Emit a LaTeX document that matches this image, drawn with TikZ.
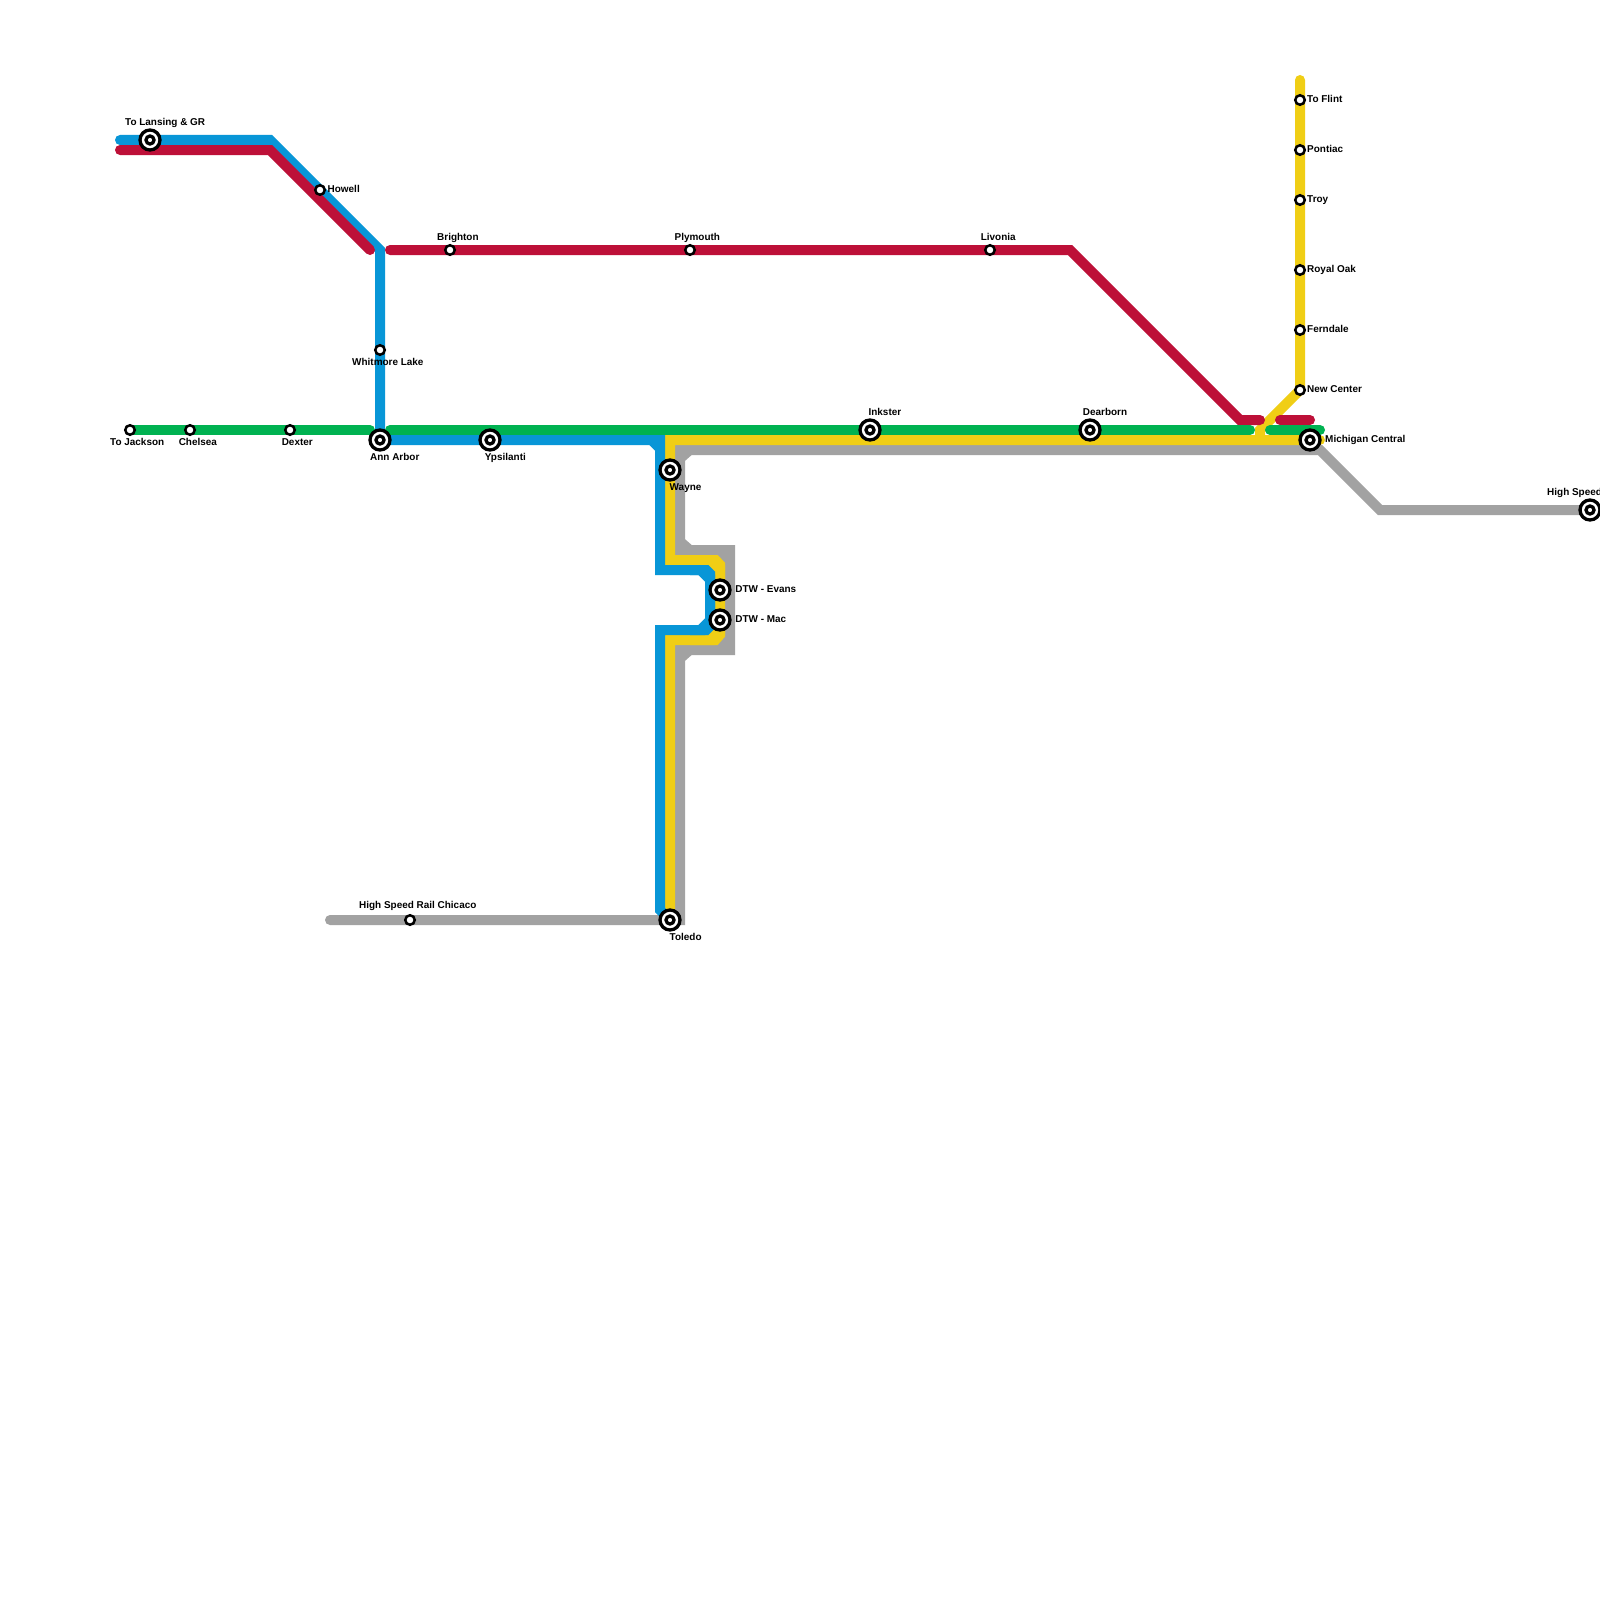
\documentclass[tikz,border=0pt]{standalone}
\usepackage{fontspec}
\setmainfont{Liberation Sans}
\pgfdeclarelayer{lines}
\pgfsetlayers{lines,main}
\definecolor{lblue}{HTML}{0896D7}
\definecolor{lred}{HTML}{BD1038}
\definecolor{lgreen}{HTML}{00B251}
\definecolor{lyellow}{HTML}{F0CE15}
\definecolor{lgray}{HTML}{A2A2A2}
\tikzset{
  metro/.style={line width=10pt,line cap=round,line join=miter,miter limit=4},
  hub/.style={circle,draw=black,fill=white,line width=3.3pt,inner sep=0pt,outer sep=0pt,minimum size=20pt,
    path picture={\draw[black,line width=3.3pt] (path picture bounding box.center) circle (4pt);}},
  halt/.style={circle,draw=black,fill=white,line width=2.5pt,inner sep=0pt,outer sep=0pt,minimum size=9.5pt},
  lbl/.style={anchor=west,inner sep=0pt,text height=9.4pt,text depth=2pt,font=\fontsize{9.95pt}{12pt}\selectfont\bfseries,text=black}
}
\begin{document}
\begin{tikzpicture}[x=1pt,y=-1pt]
\useasboundingbox (0,0) rectangle (1600,1600);
% stations
\node[hub] (lansing) at (150,140) {};
\node[halt] (howell) at (320,190) {};
\node[halt] (brighton) at (450,250) {};
\node[halt] (plymouth) at (690,250) {};
\node[halt] (livonia) at (990,250) {};
\node[halt] (whitmore) at (380,350) {};
\node[hub] (annarbor) at (380,440) {};
\node[hub] (ypsilanti) at (490,440) {};
\node[halt] (jackson) at (130,430) {};
\node[halt] (chelsea) at (190,430) {};
\node[halt] (dexter) at (290,430) {};
\node[hub] (inkster) at (870,430) {};
\node[hub] (dearborn) at (1090,430) {};
\node[hub] (wayne) at (670,470) {};
\node[hub] (evans) at (720,590) {};
\node[hub] (mac) at (720,620) {};
\node[hub] (toledo) at (670,920) {};
\node[halt] (hsrc) at (410,920) {};
\node[halt] (flint) at (1300,100) {};
\node[halt] (pontiac) at (1300,150) {};
\node[halt] (troy) at (1300,200) {};
\node[halt] (royaloak) at (1300,270) {};
\node[halt] (ferndale) at (1300,330) {};
\node[halt] (newcenter) at (1300,390) {};
\node[hub] (michigan) at (1310,440) {};
\node[hub] (hsr) at (1590,510) {};
% labels
\node[lbl] (tlansing) at (125,122) {To Lansing \& GR};
\node[lbl] (thowell) at (327.5,189) {Howell};
\node[lbl] (tbrighton) at (437,237) {Brighton};
\node[lbl] (tplymouth) at (674.5,237) {Plymouth};
\node[lbl] (tlivonia) at (980.6,237) {Livonia};
\node[lbl] (twhitmore) at (352,362) {Whitmore Lake};
\node[lbl] (tannarbor) at (370,457) {Ann Arbor};
\node[lbl] (typsilanti) at (484.7,457) {Ypsilanti};
\node[lbl] (tjackson) at (110,442) {To Jackson};
\node[lbl] (tchelsea) at (178.6,442) {Chelsea};
\node[lbl] (tdexter) at (281.6,442) {Dexter};
\node[lbl] (tinkster) at (868.4,412) {Inkster};
\node[lbl] (tdearborn) at (1082.7,412) {Dearborn};
\node[lbl] (twayne) at (669.5,486.7) {Wayne};
\node[lbl] (tevans) at (735.2,589) {DTW - Evans};
\node[lbl] (tmac) at (735.2,619) {DTW - Mac};
\node[lbl] (ttoledo) at (669.5,936.7) {Toledo};
\node[lbl] (thsrc) at (359,905) {High Speed Rail Chicaco};
\node[lbl] (tflint) at (1307,99) {To Flint};
\node[lbl] (tpontiac) at (1307,149) {Pontiac};
\node[lbl] (ttroy) at (1307,199) {Troy};
\node[lbl] (troyal) at (1307,269) {Royal Oak};
\node[lbl] (tferndale) at (1307,329) {Ferndale};
\node[lbl] (tnewcenter) at (1307,389) {New Center};
\node[lbl] (tmichigan) at (1325,439) {Michigan Central};
\node[lbl] (thsr) at (1547,492) {High Speed};
% lines
\begin{pgfonlayer}{lines}
\fill[white] (0,0) rectangle (1600,1600);
% gray
\draw[metro,lgray] (330,920) -- (hsrc.center) -- (toledo.center) -- (680,920) -- (680,650) -- (730,650) -- (730,550) -- (680,550) -- (680,450) -- (1320,450) -- (1380,510) -- (hsr.center);
\fill[lgray] (684,461.7) -- (691.7,455) -- (684,454) -- cycle;
\fill[lgray] (684,538.3) -- (691.7,545) -- (684,546) -- cycle;
\fill[lgray] (684,661.7) -- (691.7,655) -- (684,654) -- cycle;
\fill[lgray] (710,554) -- (726,554) -- (726,570) -- cycle;
\fill[lgray] (726,630) -- (726,646) -- (710,646) -- cycle;
% yellow
\draw[metro,lyellow] (1320,440) -- (michigan.center) -- (670,440) -- (670,560) -- (713,560) -- (720,567) -- (evans.center) -- (mac.center) -- (720,632.5) -- (712.5,640) -- (670,640) -- (toledo.center);
\fill[lyellow] (690,555) -- (717.7,555) -- (725,562.7) -- (725,590) -- (708,590) -- (708,578) -- (700,570) -- (690,570) -- cycle;
\fill[lyellow] (690,630) -- (690,645) -- (717.7,645) -- (725,636.7) -- (725,610) -- (712,610) -- (712,625) -- (705,630) -- cycle;
\draw[metro,lyellow] (1300,80) -- (flint.center) -- (pontiac.center) -- (troy.center) -- (royaloak.center) -- (ferndale.center) -- (newcenter.center) -- (1260,430) -- (1260,440);
% blue
\draw[metro,lblue] (120,140) -- (lansing.center) -- (270,140) -- (380,250) -- (whitmore.center) -- (annarbor.center) -- (ypsilanti.center) -- (660,440) -- (660,570) -- (703.3,570) -- (710,576.7) -- (710,623.3) -- (703.3,630) -- (660,630) -- (660,910) -- (toledo.center);
\fill[lblue] (648.3,444) -- (656,451.7) -- (656,444) -- cycle;
\fill[lblue] (690,565) -- (708.3,565) -- (715,571.7) -- (715,590) -- (705,590) -- (705,581.7) -- (698.3,575) -- (690,575) -- cycle;
\fill[lblue] (705,600) -- (705,618.3) -- (698.3,625) -- (690,625) -- (690,635) -- (708.3,635) -- (715,628.3) -- (715,600) -- cycle;
% red
\draw[metro,lred] (120,150) -- (270,150) -- (370,250);
\draw[metro,lred] (390,250) -- (brighton.center) -- (plymouth.center) -- (livonia.center) -- (1070,250) -- (1240,420) -- (1260,420);
\draw[metro,lred] (1280,420) -- (1310,420);
% green
\draw[metro,lgreen] (jackson.center) -- (chelsea.center) -- (dexter.center) -- (370,430);
\draw[metro,lgreen] (390,430) -- (inkster.center) -- (dearborn.center) -- (1250,430);
\draw[metro,lgreen] (1270,430) -- (1320,430);
\end{pgfonlayer}
\end{tikzpicture}
\end{document}
